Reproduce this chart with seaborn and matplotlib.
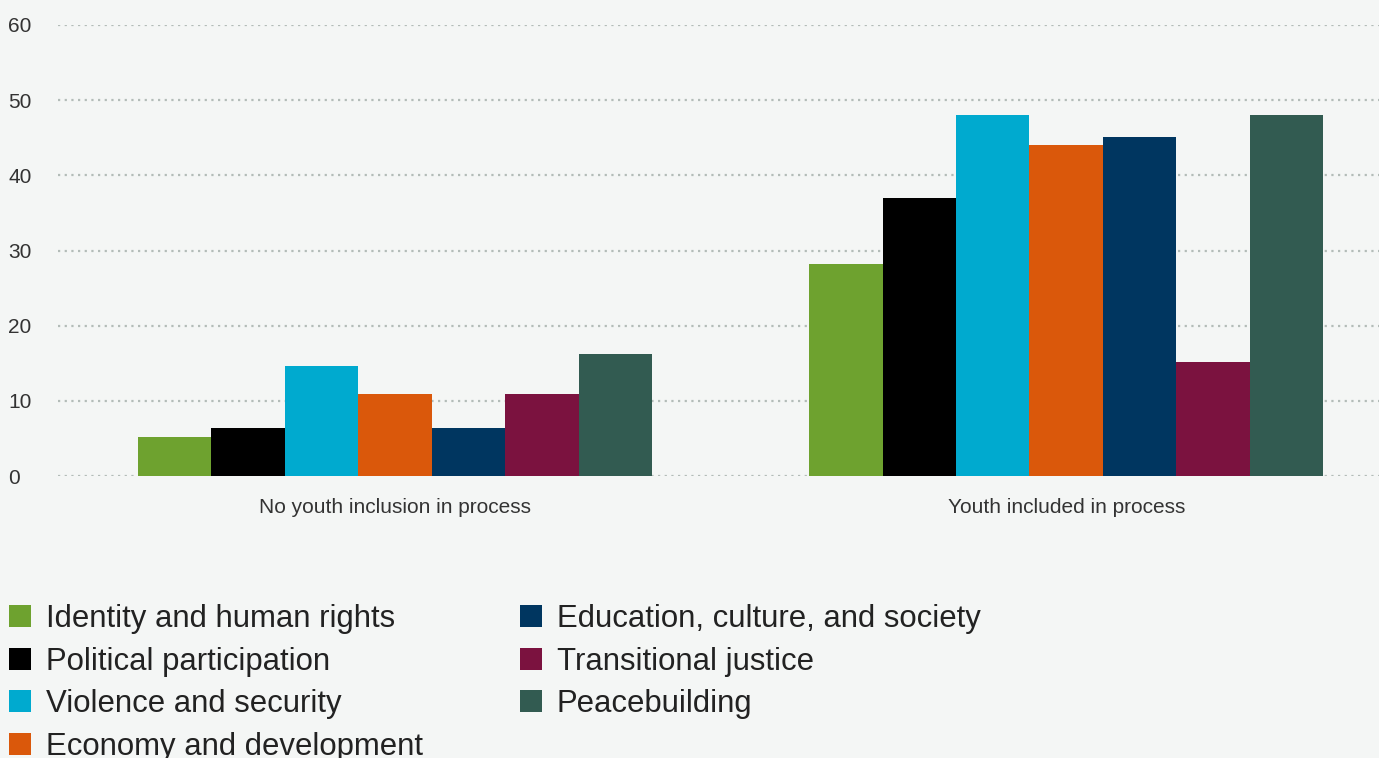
import pandas as pd
import matplotlib.pyplot as plt
import seaborn as sns

groups = ["No youth inclusion in process", "Youth included in process"]
topics = [
    "Identity and human rights",
    "Political participation",
    "Violence and security",
    "Economy and development",
    "Education, culture, and society",
    "Transitional justice",
    "Peacebuilding",
]
no_youth = [5.2, 6.4, 14.6, 10.9, 6.4, 10.9, 16.2]
youth = [28.2, 37.0, 48.0, 44.0, 45.1, 15.1, 48.0]
colors = ["#6ea22f", "#000000", "#00aacf", "#da580b", "#003660", "#7b123f", "#325b51"]
yticks = [0, 10, 20, 30, 40, 50, 60]

rows = []
for g, vals in zip(groups, [no_youth, youth]):
    for t, v in zip(topics, vals):
        rows.append({"group": g, "topic": t, "value": v})
df = pd.DataFrame(rows)

bg = "#f4f6f5"
sns.set_style("white")
plt.rcParams["font.family"] = ["Liberation Sans", "DejaVu Sans"]

fig = plt.figure(figsize=(13.79, 7.58), dpi=100, facecolor=bg)
ax = fig.add_axes([58 / 1379, (758 - 476) / 758, (1379 - 58) / 1379, 451 / 758])
ax.set_facecolor(bg)

sns.barplot(data=df, x="group", y="value", hue="topic", hue_order=topics,
            palette=colors, saturation=1, width=0.766, linewidth=0, ax=ax)

ax.set_xlim(-0.502, 1.466)
ax.set_ylim(0, 60)
ax.set_yticks(yticks)
ax.set_yticklabels([str(t) for t in yticks], ha="left")
ax.tick_params(axis="y", length=0, pad=36, labelsize=15, labelcolor="#333333")
ax.tick_params(axis="x", length=0, pad=16, labelsize=15, labelcolor="#333333")
ax.set_xlabel("")
ax.set_ylabel("")
for s in ax.spines.values():
    s.set_visible(False)
ax.yaxis.grid(True, linestyle=(0, (1, 2)), color="#b3bcb8", linewidth=1.6)
ax.set_axisbelow(True)

# legend below the plot, 2 columns (last row runs off the bottom like the original)
handles, labels = ax.get_legend_handles_labels()
ax.legend_.remove()
fig.legend(handles, labels, loc="upper left", bbox_to_anchor=(0.0, (758 - 595) / 758),
           ncol=2, frameon=False, fontsize=22.4, handlelength=0.71, handleheight=0.71,
           handletextpad=0.48, columnspacing=3.1, labelspacing=0.4,
           labelcolor="#222222", borderaxespad=0, borderpad=0.3)

fig.savefig("out.png", dpi=100, facecolor=bg)
